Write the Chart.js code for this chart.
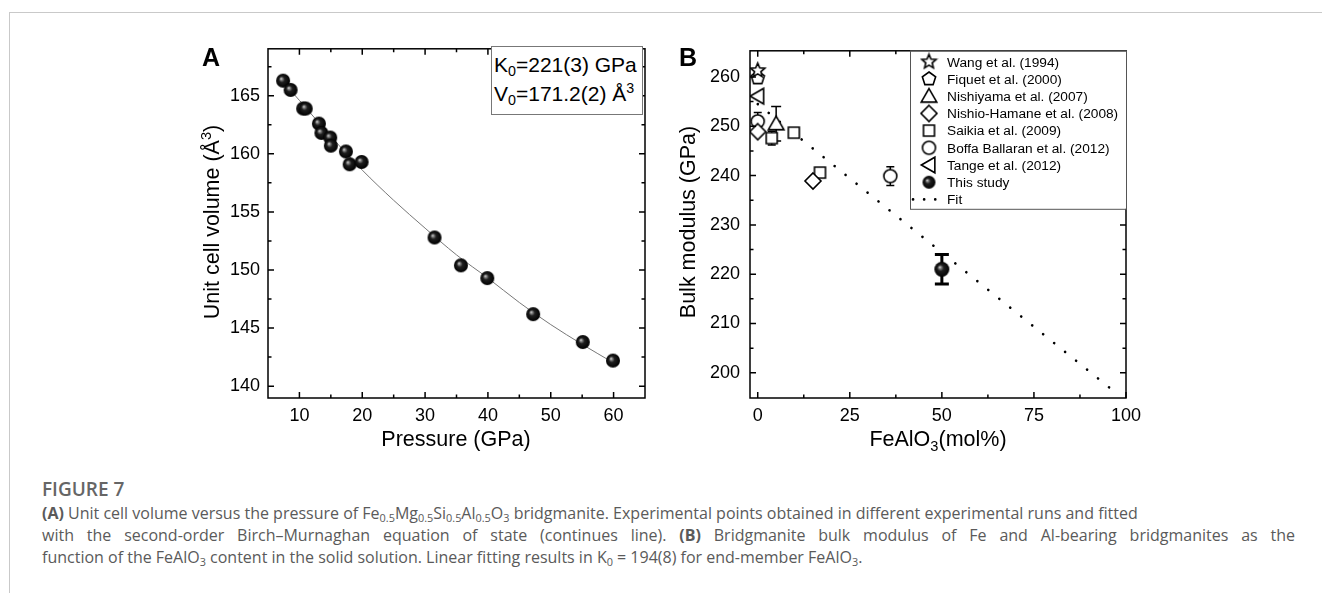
<!DOCTYPE html>
<html><head><meta charset="utf-8">
<script src="https://cdn.jsdelivr.net/npm/chart.js@4.4.1/dist/chart.umd.min.js"></script>
<style>
html,body{margin:0;padding:0;background:#fff;}
body{width:1322px;height:593px;position:relative;overflow:hidden;font-family:"Liberation Sans",Arial,sans-serif;}
.abs{position:absolute;white-space:nowrap;line-height:1;}
.frame{position:absolute;left:9px;top:12px;right:-2px;bottom:-2px;border-top:1px solid #c9c9c9;border-left:1px solid #c9c9c9;}
canvas{position:absolute;}
.ttl{font-size:21.5px;color:#000;transform:translate(-50%,-50%);}
.rot{transform:translate(-50%,-50%) rotate(-90deg);}
.letter{font-weight:bold;font-size:25px;transform:translate(-50%,-50%);}
sub,sup{font-size:0.68em;line-height:0;}
sub{vertical-align:-0.3em;}
sup{vertical-align:0.55em;}
.cap{font-family:"Open Sans",sans-serif;color:#5a5a5a;font-size:16px;left:42px;transform:translateY(-50%);}
.fig{font-family:"Open Sans",sans-serif;color:#666;font-size:19px;font-weight:600;left:42px;transform:translateY(-50%);}
.box{position:absolute;left:491px;top:46px;width:152px;height:69px;border:1px solid #777;box-sizing:border-box;background:#fff;}
.boxt{font-size:21px;color:#000;left:494px;transform:translateY(-50%);}
</style></head>
<body>
<div class="frame"></div>
<canvas id="ca" width="470" height="420" style="left:190px;top:30px;"></canvas>
<canvas id="cb" width="480" height="420" style="left:670px;top:30px;"></canvas>

<div class="box"></div>
<div class="abs boxt" style="top:64px;">K<sub>0</sub>=221(3) GPa</div>
<div class="abs boxt" style="top:93px;">V<sub>0</sub>=171.2(2) Å<sup>3</sup></div>

<div class="abs letter" style="left:211px;top:57px;">A</div>
<div class="abs letter" style="left:688px;top:57px;">B</div>

<div class="abs ttl rot" style="left:213px;top:222px;">Unit cell volume (Å<sup>3</sup>)</div>
<div class="abs ttl" style="left:456px;top:440px;">Pressure (GPa)</div>
<div class="abs ttl rot" style="left:689px;top:222px;">Bulk modulus (GPa)</div>
<div class="abs ttl" style="left:938px;top:440px;">FeAlO<sub>3</sub>(mol%)</div>

<div class="abs fig" style="top:489px;">FIGURE 7</div>
<div class="abs cap" style="top:513px;"><b>(A)</b> Unit cell volume versus the pressure of Fe<sub>0.5</sub>Mg<sub>0.5</sub>Si<sub>0.5</sub>Al<sub>0.5</sub>O<sub>3</sub> bridgmanite. Experimental points obtained in different experimental runs and fitted</div>
<div class="abs cap" style="top:535px;">with the second-order Birch–Murnaghan equation of state (continues line). <b>(B)</b> Bridgmanite bulk modulus of Fe and Al-bearing bridgmanites as the</div>
<div class="abs cap" style="top:557px;">function of the FeAlO<sub>3</sub> content in the solid solution. Linear fitting results in K<sub>0</sub> = 194(8) for end-member FeAlO<sub>3</sub>.</div>

<script>
// ---------- Panel A data ----------
const pressureA = [7.4, 8.6, 10.6, 11.0, 13.1, 13.5, 14.9, 15.0, 17.4, 18.0, 19.9, 31.5, 35.7, 39.9, 47.2, 55.1, 59.9];
const volumeA   = [166.3, 165.5, 163.9, 163.9, 162.6, 161.8, 161.4, 160.7, 160.2, 159.1, 159.3, 152.8, 150.4, 149.3, 146.2, 143.8, 142.2];
const fitPressureA = [7.4, 10, 15, 20, 25, 30, 35, 40, 45, 50, 55, 60];
const fitVolumeA   = [166.2, 164.6, 161.5, 158.6, 156.0, 153.6, 151.3, 149.3, 147.2, 145.3, 143.6, 142.0];
const xTicksA = [10, 20, 30, 40, 50, 60];
const xMinorA = [15, 25, 35, 45, 55];
const yTicksA = [140, 145, 150, 155, 160, 165];
const yMinorA = [142.5, 147.5, 152.5, 157.5, 162.5, 167.5];

// ---------- Panel B data ----------
const wangX = [0],        wangY = [261.3];
const fiquetX = [0],      fiquetY = [259.8];
const nishiyamaX = [5],   nishiyamaY = [250.5], nishiyamaErr = [3.5];
const nishioX = [0, 15],  nishioY = [248.9, 238.9];
const saikiaX = [3.8, 9.8, 16.9], saikiaY = [247.6, 248.7, 240.6], saikiaErr = [1.4, 0, 0];
const boffaX = [0, 36],   boffaY = [251.0, 239.9], boffaErr = [1.8, 1.9];
const tangeX = [0],       tangeY = [256.1];
const studyX = [50],      studyY = [221.0], studyErr = [3.0];
const fitXB = [0, 98],    fitYB = [254.5, 195.5];
const xTicksB = [0, 25, 50, 75, 100];
const xMinorB = [12.5, 37.5, 62.5, 87.5];
const yTicksB = [200, 210, 220, 230, 240, 250, 260];
const yMinorB = [205, 215, 225, 235, 245, 255];
const legendLabels = ['Wang et al. (1994)', 'Fiquet et al. (2000)', 'Nishiyama et al. (2007)', 'Nishio-Hamane et al. (2008)', 'Saikia et al. (2009)', 'Boffa Ballaran et al. (2012)', 'Tange et al. (2012)', 'This study', 'Fit'];

const FONT = '"Liberation Sans", Arial, sans-serif';
const pts = (xs, ys) => xs.map((x, i) => ({x, y: ys[i]}));

// caption: only the second line is stretched (justified) to the right edge
const capJustifyEnd = 1295;
function fitCaption() {
  const el = document.querySelectorAll('.cap')[1];
  el.style.wordSpacing = '0px';
  const w = el.getBoundingClientRect().width;
  const n = (el.textContent.match(/ /g) || []).length;
  el.style.wordSpacing = Math.max(0, (capJustifyEnd - 42 - w) / n) + 'px';
}
fitCaption();
if (document.fonts && document.fonts.ready) document.fonts.ready.then(fitCaption);

function makeSphere(r) {
  const s = Math.ceil(2 * r + 2), c = document.createElement('canvas');
  c.width = c.height = s;
  const g = c.getContext('2d'), cx = s / 2, cy = s / 2;
  const grd = g.createRadialGradient(cx - r * 0.3, cy - r * 0.3, 0, cx, cy, r);
  grd.addColorStop(0, '#e8e8e8'); grd.addColorStop(0.16, '#8a8a8a');
  grd.addColorStop(0.42, '#1e1e1e'); grd.addColorStop(1, '#000');
  g.fillStyle = grd; g.beginPath(); g.arc(cx, cy, r, 0, Math.PI * 2); g.fill();
  return c;
}
function makeShape(kind, R) {
  const s = Math.ceil(2 * R + 4), c = document.createElement('canvas');
  c.width = c.height = s;
  const g = c.getContext('2d'), cx = s / 2, cy = s / 2;
  g.lineWidth = 1.6; g.strokeStyle = '#000'; g.fillStyle = '#fff';
  g.beginPath();
  const poly = (n, start, rr) => { for (let k = 0; k < n; k++) { const a = start + k * 2 * Math.PI / n; const X = cx + rr(k) * Math.cos(a), Y = cy + rr(k) * Math.sin(a); k ? g.lineTo(X, Y) : g.moveTo(X, Y); } g.closePath(); };
  if (kind === 'star') poly(10, -Math.PI / 2, k => k % 2 ? R * 0.45 : R);
  else if (kind === 'pentagon') poly(5, -Math.PI / 2, () => R);
  else if (kind === 'triangle') { g.translate(0, R * 0.15); poly(3, -Math.PI / 2, () => R); }
  else if (kind === 'ltriangle') { g.translate(R * 0.15, 0); poly(3, Math.PI, () => R); }
  else if (kind === 'diamond') poly(4, -Math.PI / 2, () => R);
  else if (kind === 'square') g.rect(cx - R, cy - R, 2 * R, 2 * R);
  else if (kind === 'circle') g.arc(cx, cy, R, 0, Math.PI * 2);
  g.fill(); g.stroke();
  return c;
}

const frameTicks = {
  id: 'frameTicks',
  afterDraw(chart) {
    const o = chart.options.plugins.frameTicks;
    const {ctx, chartArea: {left, right, top, bottom}, scales: {x, y}} = chart;
    ctx.save();
    ctx.strokeStyle = '#000'; ctx.lineWidth = 1.5;
    ctx.strokeRect(left, top, right - left, bottom - top);
    ctx.beginPath();
    const tx = (v, L) => { const p = x.getPixelForValue(v); ctx.moveTo(p, bottom); ctx.lineTo(p, bottom - L); ctx.moveTo(p, top); ctx.lineTo(p, top + L); };
    const ty = (v, L) => { const p = y.getPixelForValue(v); ctx.moveTo(left, p); ctx.lineTo(left + L, p); ctx.moveTo(right, p); ctx.lineTo(right - L, p); };
    o.xMajor.forEach(v => tx(v, 6)); o.xMinor.forEach(v => tx(v, 3.5));
    o.yMajor.forEach(v => ty(v, 6)); o.yMinor.forEach(v => ty(v, 3.5));
    ctx.stroke();
    ctx.restore();
  }
};
const errorBars = {
  id: 'errorBars',
  beforeDatasetsDraw(chart) {
    const {ctx, scales: {x, y}} = chart;
    chart.data.datasets.forEach(ds => {
      if (!ds.errors) return;
      ds.data.forEach((p, j) => {
        const e = ds.errors[j]; if (!e) return;
        const px = x.getPixelForValue(p.x), t = y.getPixelForValue(p.y + e), b = y.getPixelForValue(p.y - e), c = ds.capHalf;
        ctx.save(); ctx.strokeStyle = '#000'; ctx.lineWidth = ds.errWidth;
        ctx.beginPath(); ctx.moveTo(px, t); ctx.lineTo(px, b);
        ctx.moveTo(px - c, t); ctx.lineTo(px + c, t); ctx.moveTo(px - c, b); ctx.lineTo(px + c, b);
        ctx.stroke(); ctx.restore();
      });
    });
  }
};
const boxLegend = {
  id: 'boxLegend',
  afterDraw(chart) {
    const {ctx, chartArea: {right, top}} = chart;
    const w = 216, h = 158, L = right - w;
    ctx.save();
    ctx.fillStyle = '#fff'; ctx.fillRect(L, top, w, h);
    ctx.strokeStyle = '#555'; ctx.lineWidth = 1; ctx.strokeRect(L + 0.5, top + 0.5, w, h);
    ctx.font = '13.7px ' + FONT; ctx.fillStyle = '#000'; ctx.textBaseline = 'middle'; ctx.textAlign = 'left';
    chart.data.datasets.forEach((ds, i) => {
      const yy = top + 11 + i * 17.2;
      if (ds.legendImg) ctx.drawImage(ds.legendImg, L + 19 - ds.legendImg.width / 2, yy - ds.legendImg.height / 2);
      else {
        ctx.save(); ctx.strokeStyle = '#000'; ctx.lineWidth = 2.6; ctx.lineCap = 'round'; ctx.setLineDash([0.1, 11]);
        ctx.beginPath(); ctx.moveTo(L + 3, yy); ctx.lineTo(L + 36, yy); ctx.stroke(); ctx.restore();
      }
      ctx.fillText(ds.label, L + 37, yy + 1);
    });
    ctx.restore();
  }
};

function scaleCfg(min, max, ticks, fitKey, fitVal, pad) {
  return {
    type: 'linear', min, max,
    afterBuildTicks: s => { s.ticks = ticks.map(v => ({value: v})); },
    afterFit: s => { s[fitKey] = fitVal; },
    grid: {display: false, drawTicks: false},
    border: {display: false},
    ticks: {font: {family: FONT, size: 18}, color: '#000', padding: pad, autoSkip: false, maxRotation: 0}
  };
}

// ---------- Chart A ----------
const sphA = makeSphere(7);
new Chart(document.getElementById('ca'), {
  type: 'scatter',
  data: {datasets: [
    {label: 'data', data: pts(pressureA, volumeA), pointStyle: sphA, pointRadius: 7, order: 0},
    {type: 'line', label: 'fit', data: pts(fitPressureA, fitVolumeA), borderColor: '#777', borderWidth: 1, pointRadius: 0, tension: 0.4, cubicInterpolationMode: 'monotone', fill: false, order: 1}
  ]},
  options: {
    responsive: false, animation: false, devicePixelRatio: 1,
    layout: {padding: {top: 16, right: 15, left: 0, bottom: 0}},
    scales: {
      x: scaleCfg(5, 65, xTicksA, 'height', 52, 7),
      y: scaleCfg(138.98, 169.04, yTicksA, 'width', 78, 8)
    },
    plugins: {legend: {display: false}, tooltip: {enabled: false},
      frameTicks: {xMajor: xTicksA, xMinor: xMinorA, yMajor: yTicksA, yMinor: yMinorA}}
  },
  plugins: [frameTicks]
});

// ---------- Chart B ----------
const shp = {
  star: makeShape('star', 7.5), pentagon: makeShape('pentagon', 7), triangle: makeShape('triangle', 9),
  diamond: makeShape('diamond', 8), square: makeShape('square', 5.5), circle: makeShape('circle', 6.5),
  ltriangle: makeShape('ltriangle', 9)
};
const sphB = makeSphere(7.5), sphL = makeSphere(6.5);
const mk = (label, xs, ys, img, extra) => Object.assign({label, data: pts(xs, ys), pointStyle: img, pointRadius: 8, legendImg: img, order: 0}, extra || {});
new Chart(document.getElementById('cb'), {
  type: 'scatter',
  data: {datasets: [
    mk(legendLabels[0], wangX, wangY, shp.star),
    mk(legendLabels[1], fiquetX, fiquetY, shp.pentagon),
    mk(legendLabels[2], nishiyamaX, nishiyamaY, shp.triangle, {errors: nishiyamaErr, capHalf: 5, errWidth: 1.5}),
    mk(legendLabels[3], nishioX, nishioY, shp.diamond),
    mk(legendLabels[4], saikiaX, saikiaY, shp.square, {errors: saikiaErr, capHalf: 4, errWidth: 1.5}),
    mk(legendLabels[5], boffaX, boffaY, shp.circle, {errors: boffaErr, capHalf: 4, errWidth: 1.5}),
    mk(legendLabels[6], tangeX, tangeY, shp.ltriangle),
    Object.assign(mk(legendLabels[7], studyX, studyY, sphB, {errors: studyErr, capHalf: 7, errWidth: 3}), {legendImg: sphL}),
    {type: 'line', label: legendLabels[8], data: pts(fitXB, fitYB), borderColor: '#000', borderWidth: 2.6, borderCapStyle: 'round', borderDash: [0.1, 14], pointRadius: 0, fill: false, order: 1}
  ]},
  options: {
    responsive: false, animation: false, devicePixelRatio: 1,
    layout: {padding: {top: 16, right: 24, left: 0, bottom: 0}},
    scales: {
      x: scaleCfg(-2.1, 100, xTicksB, 'height', 52, 7),
      y: scaleCfg(194.9, 265.3, yTicksB, 'width', 80, 10)
    },
    plugins: {legend: {display: false}, tooltip: {enabled: false},
      frameTicks: {xMajor: xTicksB, xMinor: xMinorB, yMajor: yTicksB, yMinor: yMinorB}}
  },
  plugins: [errorBars, frameTicks, boxLegend]
});
</script>
</body></html>
